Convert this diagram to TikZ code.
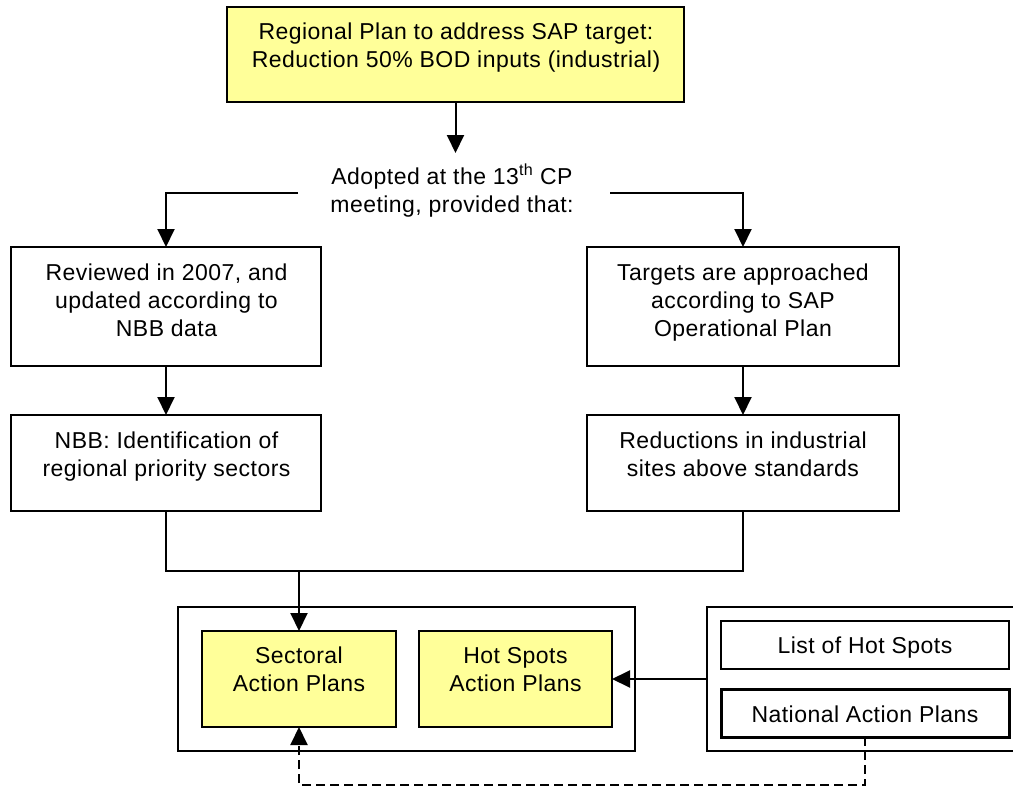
\documentclass[tikz,border=0pt]{standalone}
\usepackage{fontspec}
\setmainfont{Liberation Sans}[LetterSpace=2]
\usetikzlibrary{arrows.meta}
\definecolor{boxyellow}{HTML}{FFFF99}
\tikzset{
  box/.style={draw, line width=2pt, rectangle, inner sep=0pt, outer sep=0pt},
  ybox/.style={box, fill=boxyellow},
  txt/.style={font=\fontsize{23}{28}\selectfont, align=center, inner sep=0pt, anchor=north},
  arr/.style={line width=2pt, -{Triangle[length=18pt,width=17pt]}},
  ln/.style={line width=2pt},
}
\begin{document}
\begin{tikzpicture}[x=1pt,y=-1pt]
\useasboundingbox (0,0) rectangle (1013,787);
% boxes
\node[ybox, minimum width=457pt, minimum height=95pt] (top) at (455.5,54.5) {};
\node[txt] (ttop) at (456,19.4) {\strut Regional Plan to address SAP target:\\Reduction 50\% BOD inputs (industrial)};
\coordinate (lin) at (455.5,153);
\node[txt] (lbl) at (452,163.4) {\strut Adopted at the 13\textsuperscript{th} CP\\meeting, provided that:};
\coordinate (lL) at (298,193);
\coordinate (lR) at (610,193);
\node[box, minimum width=310pt, minimum height=119pt] (b1) at (166,306.5) {};
\node[txt] (t1) at (166.5,260.4) {\strut Reviewed in 2007, and\\updated according to\\NBB data};
\node[box, minimum width=312pt, minimum height=119pt] (b2) at (743,306.5) {};
\node[txt] (t2) at (743,260.4) {\strut Targets are approached\\according to SAP\\Operational Plan};
\node[box, minimum width=310pt, minimum height=96pt] (b3) at (166,463) {};
\node[txt] (t3) at (166.5,428.4) {\strut NBB: Identification of\\regional priority sectors};
\node[box, minimum width=312pt, minimum height=96pt] (b4) at (743,463) {};
\node[txt] (t4) at (743,428.4) {\strut Reductions in industrial\\sites above standards};
\coordinate (j) at (299,571);
% bottom group
\node[box, minimum width=457pt, minimum height=144pt] (o1) at (406.5,679) {};
\node[ybox, minimum width=194pt, minimum height=96pt] (sec) at (299,679) {};
\node[txt] (tsec) at (299,643.4) {\strut Sectoral\\Action Plans};
\node[ybox, minimum width=193pt, minimum height=96pt] (hot) at (515.5,679) {};
\node[txt] (thot) at (515.5,643.4) {\strut Hot Spots\\Action Plans};
\node[box, minimum width=323pt, minimum height=144pt] (o2) at (868.5,679) {};
\node[box, minimum width=288pt, minimum height=48pt] (list) at (865,645) {};
\node[txt] (tlist) at (865,633.4) {\strut List of Hot Spots};
\node[box, line width=3pt, minimum width=288pt, minimum height=48pt] (nat) at (865,713) {};
\node[txt] (tnat) at (865,702.4) {\strut National Action Plans};
\coordinate (d) at (865,785);
% connectors
\draw[arr] (top.south) -- (lin);
\draw[arr] (lL) -| (b1.north);
\draw[arr] (lR) -| (b2.north);
\draw[arr] (b1.south) -- (b3.north);
\draw[arr] (b2.south) -- (b4.north);
\draw[ln] (b3.south) |- (j) -- (j -| b4.south) -- (b4.south);
\draw[arr] (j) -- (sec.north);
\draw[arr] (o2.west) -- (hot.east);
\draw[arr, dash pattern=on 9pt off 5pt] (nat.south) -- (d) -| (sec.south);
\end{tikzpicture}
\end{document}
